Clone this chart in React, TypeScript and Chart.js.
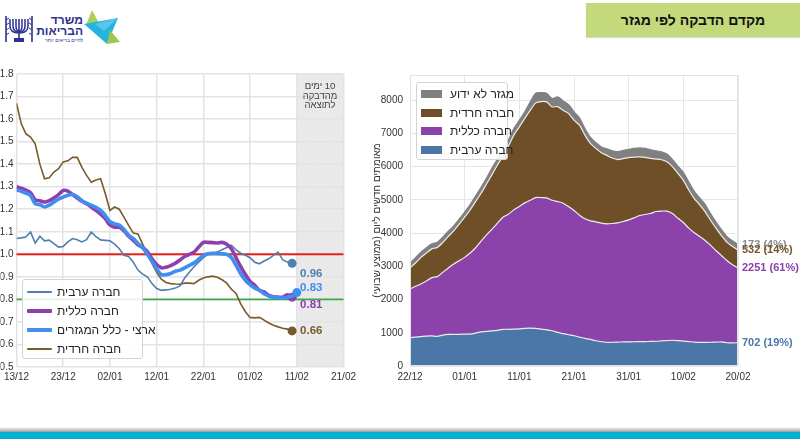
import React, { useEffect, useRef } from 'react';
import { Chart, registerables } from 'chart.js';

Chart.register(...registerables);

const FONT = '"Liberation Sans", Arial, Helvetica, sans-serif';

// ---------- header / text ----------
const titleText = 'מקדם הדבקה לפי מגזר';
const logoLine1 = 'משרד';
const logoLine2 = 'הבריאות';
const logoSlogan = 'לחיים בריאים יותר';
const forecastNote = ['10 ימים', 'מהדבקה', 'לתוצאה'];

// ---------- left chart: reproduction number by sector (daily from 13/12) ----------
const rTickLabels = ['13/12', '23/12', '02/01', '12/01', '22/01', '01/02', '11/02', '21/02'];
const rNames = ['חברה ערבית', 'חברה כללית', 'ארצי - כלל המגזרים', 'חברה חרדית'];

const rArab = [
  1.07, 1.073, 1.077, 1.099, 1.05, 1.08, 1.06, 1.063, 1.047, 1.032,
  1.035, 1.055, 1.07, 1.065, 1.055, 1.065, 1.099, 1.078, 1.064, 1.062,
  1.06, 1.045, 1.025, 0.996, 0.99, 0.965, 0.93, 0.912, 0.9, 0.87,
  0.848, 0.84, 0.842, 0.845, 0.85, 0.86, 0.895, 0.92, 0.945, 0.965,
  0.985, 1.0, 1.005, 1.01, 1.02, 1.03, 1.04, 1.02, 1.005, 0.996,
  0.985, 0.965, 0.958, 0.97, 0.98, 0.995, 1.01, 0.975, 0.966, 0.96,
];
const rGeneral = [
  1.30, 1.293, 1.285, 1.273, 1.242, 1.238, 1.232, 1.238, 1.25, 1.265,
  1.283, 1.28, 1.265, 1.25, 1.235, 1.224, 1.21, 1.195, 1.178, 1.158,
  1.13, 1.12, 1.12, 1.105, 1.08, 1.062, 1.042, 1.03, 1.012, 0.98,
  0.955, 0.94, 0.943, 0.95, 0.96, 0.975, 0.99, 1.0, 1.01, 1.032,
  1.053, 1.053, 1.052, 1.05, 1.053, 1.045, 1.025, 0.985, 0.945, 0.91,
  0.88, 0.862, 0.84, 0.833, 0.818, 0.812, 0.81, 0.81, 0.82, 0.81,
];
const rNational = [
  1.286, 1.28, 1.272, 1.261, 1.224, 1.22, 1.21, 1.218, 1.232, 1.245,
  1.254, 1.262, 1.265, 1.255, 1.238, 1.227, 1.218, 1.208, 1.195, 1.172,
  1.145, 1.135, 1.13, 1.11, 1.085, 1.07, 1.048, 1.03, 1.0, 0.97,
  0.935, 0.91, 0.91, 0.915, 0.925, 0.93, 0.94, 0.951, 0.962, 0.978,
  0.995, 1.002, 1.004, 1.004, 1.002, 1.0, 0.985, 0.951, 0.914, 0.885,
  0.865, 0.85, 0.841, 0.825, 0.815, 0.81, 0.808, 0.805, 0.81, 0.815,
  0.83,
];
const rHaredi = [
  1.67, 1.58, 1.535, 1.52, 1.49, 1.40, 1.335, 1.34, 1.365, 1.38,
  1.41, 1.415, 1.43, 1.43, 1.386, 1.35, 1.32, 1.33, 1.335, 1.27,
  1.195, 1.21, 1.2, 1.165, 1.128, 1.094, 1.09, 1.045, 1.0, 0.96,
  0.92, 0.89, 0.875, 0.87, 0.868, 0.867, 0.872, 0.872, 0.87, 0.885,
  0.895, 0.9, 0.903, 0.898, 0.887, 0.872, 0.845, 0.826, 0.78, 0.745,
  0.72, 0.718, 0.72, 0.708, 0.695, 0.685, 0.678, 0.672, 0.668, 0.66,
];
const rThresholdHigh = 1.0;
const rThresholdLow = 0.8;
const rForecastStart = 60; // days after 13/12 (11/02)
const rForecastEnd = 70; // 21/02

const rColors = ['#4f7fae', '#8e3fae', '#3f8ef0', '#7a5a2c'];
const rWidths = [1.6, 3.6, 3.6, 1.6];
const rOrder = [2, 1, 0, 3];
const rLabelDy = [11, 8, -5, 0];

// ---------- right chart: daily new cases (7-day avg) by sector, from 22/12 ----------
const cTickLabels = ['22/12', '01/01', '11/01', '21/01', '31/01', '10/02', '20/02'];
const cYTicks = [0, 1000, 2000, 3000, 4000, 5000, 6000, 7000, 8000];
const sectorNames = ['חברה ערבית', 'חברה כללית', 'חברה חרדית', 'מגזר לא ידוע'];
const casesArab = [
  855, 870, 885, 900, 905, 895, 930, 950, 955, 955,
  960, 960, 990, 1030, 1040, 1055, 1075, 1105, 1105, 1110,
  1120, 1135, 1140, 1130, 1110, 1090, 1060, 1010, 975, 940,
  910, 870, 830, 800, 760, 730, 715, 715, 720, 725,
  728, 730, 732, 735, 740, 745, 755, 765, 775, 765,
  750, 735, 720, 710, 712, 715, 720, 725, 700, 695,
  702,
];
const casesGeneral = [
  1462, 1530, 1585, 1660, 1755, 1795, 1890, 2000, 2115, 2215,
  2310, 2440, 2570, 2730, 2910, 3065, 3225, 3375, 3465, 3590,
  3680, 3775, 3850, 3940, 3960, 3970, 3930, 3940, 3925, 3860,
  3770, 3670, 3600, 3570, 3580, 3570, 3565, 3575, 3590, 3625,
  3672, 3730, 3798, 3825, 3850, 3905, 3910, 3895, 3815, 3685,
  3570, 3415, 3290, 3190, 3068, 2915, 2750, 2595, 2470, 2355,
  2251,
];
const casesHaredi = [
  634, 700, 800, 840, 865, 880, 900, 950, 1000, 1100,
  1210, 1300, 1390, 1440, 1530, 1640, 1750, 1840, 2050, 2250,
  2400, 2540, 2710, 2850, 2890, 2890, 2810, 2860, 2800, 2800,
  2720, 2710, 2520, 2330, 2210, 2120, 2060, 1970, 1905, 1890,
  1875, 1830, 1765, 1720, 1660, 1580, 1545, 1490, 1410, 1350,
  1270, 1150, 1030, 950, 860, 750, 670, 600, 550, 550,
  532,
];
const casesUnknown = [
  140, 160, 153, 160, 151, 156, 160, 160, 150, 150,
  152, 160, 170, 180, 180, 200, 180, 180, 180, 200,
  200, 200, 250, 290, 270, 260, 250, 290, 280, 270,
  250, 220, 200, 180, 180, 170, 200, 220, 240, 250,
  250, 260, 270, 270, 260, 250, 240, 230, 220, 220,
  240, 240, 220, 210, 220, 200, 190, 180, 170, 170,
  173,
];
const sectorShares = [19, 61, 14, 4];
const casesYTitle = 'מאומתים חדשים ליום (ממוצע שבועי)';

const sectorColors = ['#4a76a8', '#8b42ab', '#6f4f28', '#808080'];
const sectorLabelColors = ['#4a76a8', '#8b42ab', '#74552c', '#8a8a8a'];

// ---------- plugins ----------
const leftDecor = {
  id: 'leftDecor',
  beforeDraw(chart: any) {
    const { ctx, chartArea: a, scales } = chart;
    const x0 = scales.x.getPixelForValue(rForecastStart);
    const x1 = scales.x.getPixelForValue(rForecastEnd);
    ctx.save();
    ctx.fillStyle = '#e6e6e6';
    ctx.fillRect(x0, a.top, x1 - x0, a.bottom - a.top);
    ctx.beginPath();
    ctx.rect(x0, a.top, x1 - x0, a.bottom - a.top);
    ctx.clip();
    ctx.strokeStyle = 'rgba(255,255,255,0.6)';
    ctx.lineWidth = 0.7;
    ctx.beginPath();
    const h = a.bottom - a.top;
    for (let k = -h; k < x1 - x0 + h; k += 3) {
      ctx.moveTo(x0 + k, a.top);
      ctx.lineTo(x0 + k + h, a.bottom);
    }
    ctx.stroke();
    ctx.restore();
  },
  beforeDatasetsDraw(chart: any) {
    const { ctx, chartArea: a, scales } = chart;
    ctx.save();
    const yh = scales.y.getPixelForValue(rThresholdHigh);
    ctx.strokeStyle = '#e8211d';
    ctx.lineWidth = 2;
    ctx.beginPath();
    ctx.moveTo(a.left, yh);
    ctx.lineTo(a.right, yh);
    ctx.stroke();
    const yl = scales.y.getPixelForValue(rThresholdLow);
    ctx.strokeStyle = '#3daa48';
    ctx.lineWidth = 1.6;
    ctx.beginPath();
    ctx.moveTo(a.left, yl);
    ctx.lineTo(a.right, yl);
    ctx.stroke();
    ctx.restore();
  },
  afterDatasetsDraw(chart: any) {
    const { ctx, scales } = chart;
    const series = [rArab, rGeneral, rNational, rHaredi];
    const lx = scales.x.getPixelForValue(rArab.length - 1) + 8;
    ctx.save();
    ctx.direction = 'ltr';
    ctx.font = `bold 11.5px ${FONT}`;
    ctx.textAlign = 'left';
    ctx.textBaseline = 'middle';
    series.forEach((arr, i) => {
      const v = arr[arr.length - 1];
      const py = scales.y.getPixelForValue(v);
      ctx.fillStyle = rColors[i];
      ctx.fillText(v.toFixed(2), lx, py + rLabelDy[i]);
    });
    ctx.restore();
  },
};

const rightDecor = {
  id: 'rightDecor',
  afterDatasetsDraw(chart: any) {
    const { ctx, chartArea: a, scales } = chart;
    ctx.save();
    ctx.strokeStyle = '#e2e2e2';
    ctx.lineWidth = 1;
    ctx.strokeRect(a.left + 0.5, a.top + 0.5, a.right - a.left - 1, a.bottom - a.top - 1);
    const series = [casesArab, casesGeneral, casesHaredi, casesUnknown];
    const tops: number[] = [];
    let cum = 0;
    series.forEach((arr) => {
      cum += arr[arr.length - 1];
      tops.push(cum);
    });
    ctx.direction = 'ltr';
    ctx.font = `bold 11px ${FONT}`;
    ctx.textAlign = 'left';
    ctx.textBaseline = 'middle';
    for (let i = series.length - 1; i >= 0; i--) {
      const arr = series[i];
      const v = arr[arr.length - 1];
      ctx.fillStyle = sectorLabelColors[i];
      ctx.fillText(`${v} (${sectorShares[i]}%)`, a.right + 4, scales.y.getPixelForValue(tops[i]));
    }
    ctx.restore();
  },
};

// ---------- charts ----------
function LeftChart() {
  const ref = useRef<HTMLCanvasElement | null>(null);
  useEffect(() => {
    if (!ref.current) return;
    const series = [rArab, rGeneral, rNational, rHaredi];
    const chart = new Chart(ref.current, {
      type: 'line',
      data: {
        datasets: series.map((arr, i) => ({
          label: rNames[i],
          data: arr.map((v, d) => ({ x: d, y: v })),
          borderColor: rColors[i],
          backgroundColor: rColors[i],
          borderWidth: rWidths[i],
          tension: i === 1 || i === 2 ? 0.3 : 0,
          pointRadius: (c: any) => (c.dataIndex === arr.length - 1 ? 4.5 : 0),
          pointHoverRadius: 0,
          pointBorderWidth: 0,
          pointBackgroundColor: rColors[i],
          fill: false,
          order: rOrder[i],
        })),
      } as any,
      options: {
        animation: false,
        responsive: false,
        events: [],
        layout: { padding: { top: 14, right: 16, left: 0, bottom: 0 } },
        plugins: { legend: { display: false }, tooltip: { enabled: false } },
        scales: {
          x: {
            type: 'linear',
            min: 0,
            max: 70,
            afterFit: (s: any) => { s.height = 22; },
            grid: { color: '#e3e3e3', lineWidth: 1.5, drawTicks: false },
            border: { display: false },
            ticks: {
              stepSize: 10,
              padding: 4,
              autoSkip: false,
              maxRotation: 0,
              color: '#333',
              font: { family: FONT, size: 10 },
              callback: (v: any) => rTickLabels[Math.round(Number(v) / 10)] ?? '',
            },
          },
          y: {
            min: 0.5,
            max: 1.8,
            afterFit: (s: any) => { s.width = 16; },
            grid: { color: '#e3e3e3', lineWidth: 1.5, drawTicks: false },
            border: { display: false },
            ticks: {
              stepSize: 0.1,
              padding: 3,
              color: '#333',
              font: { family: FONT, size: 10 },
              callback: (v: any) => Number(v).toFixed(1),
            },
          },
        },
      } as any,
      plugins: [leftDecor],
    });
    return () => chart.destroy();
  }, []);
  return (
    <canvas
      ref={ref}
      width={360}
      height={329}
      style={{ position: 'absolute', left: 0, top: 60, width: 360, height: 329, display: 'block' }}
    />
  );
}

function RightChart() {
  const ref = useRef<HTMLCanvasElement | null>(null);
  useEffect(() => {
    if (!ref.current) return;
    const series = [casesArab, casesGeneral, casesHaredi, casesUnknown];
    const chart = new Chart(ref.current, {
      type: 'line',
      data: {
        datasets: series.map((arr, i) => ({
          label: sectorNames[i],
          data: arr.map((v, d) => ({ x: d, y: v })),
          backgroundColor: sectorColors[i],
          borderColor: i < 3 ? '#ececec' : sectorColors[i],
          borderWidth: 1.2,
          fill: i === 0 ? 'origin' : '-1',
          pointRadius: 0,
          pointHoverRadius: 0,
          tension: 0.25,
        })),
      } as any,
      options: {
        animation: false,
        responsive: false,
        events: [],
        layout: { padding: { top: 15, right: 62, left: 0, bottom: 0 } },
        plugins: { legend: { display: false }, tooltip: { enabled: false } },
        scales: {
          x: {
            type: 'linear',
            min: 0,
            max: 60,
            afterFit: (s: any) => { s.height = 22; },
            grid: { color: '#e6e6e6', lineWidth: 1, drawTicks: false },
            border: { display: false },
            ticks: {
              stepSize: 10,
              padding: 5,
              autoSkip: false,
              maxRotation: 0,
              color: '#333',
              font: { family: FONT, size: 10 },
              callback: (v: any) => cTickLabels[Math.round(Number(v) / 10)] ?? '',
            },
          },
          y: {
            stacked: true,
            min: 0,
            max: 8760,
            afterBuildTicks: (s: any) => { s.ticks = cYTicks.map((v) => ({ value: v })); },
            afterFit: (s: any) => { s.width = 48; },
            grid: { color: '#e6e6e6', lineWidth: 1, drawTicks: false },
            border: { display: false },
            title: {
              display: true,
              text: casesYTitle,
              color: '#333',
              font: { family: FONT, size: 10 },
              padding: { top: 9, bottom: 0 },
            },
            ticks: {
              padding: 7,
              color: '#333',
              font: { family: FONT, size: 10 },
              callback: (v: any) => String(v),
            },
          },
        },
      } as any,
      plugins: [rightDecor],
    });
    return () => chart.destroy();
  }, []);
  return (
    <canvas
      ref={ref}
      width={438}
      height={328}
      style={{ position: 'absolute', left: 362, top: 60, width: 438, height: 328, display: 'block', direction: 'rtl' }}
    />
  );
}

function LeftLegend() {
  const rows = [0, 1, 2, 3];
  return (
    <div
      style={{
        position: 'absolute', left: 22, top: 279, width: 121, height: 80,
        border: '1px solid #d4d4d4', borderRadius: 3, background: 'rgba(255,255,255,0.88)', boxSizing: 'border-box',
      }}
    >
      {rows.map((i) => (
        <div key={i} style={{ position: 'absolute', left: 0, top: 3 + i * 19, width: 119, height: 18 }}>
          <div style={{ position: 'absolute', left: 4, top: 9 - rWidths[i] / 2, width: 25, height: rWidths[i], background: rColors[i], borderRadius: 1 }} />
          <div dir="rtl" style={{ position: 'absolute', left: 34, top: 2, fontSize: 12, lineHeight: '14px', color: '#222', whiteSpace: 'nowrap' }}>
            {rNames[i]}
          </div>
        </div>
      ))}
    </div>
  );
}

function RightLegend() {
  const rows = [3, 2, 1, 0];
  return (
    <div
      style={{
        position: 'absolute', left: 416, top: 82, width: 92, height: 78,
        border: '1px solid #d4d4d4', borderRadius: 3, background: 'rgba(255,255,255,0.9)', boxSizing: 'border-box',
      }}
    >
      {rows.map((s, k) => (
        <div key={s} style={{ position: 'absolute', left: 0, top: 2 + k * 18.6, width: 90, height: 18 }}>
          <div style={{ position: 'absolute', left: 4, top: 5, width: 21, height: 8, background: sectorColors[s] }} />
          <div dir="rtl" style={{ position: 'absolute', left: 33, top: 2, fontSize: 12, lineHeight: '14px', color: '#222', whiteSpace: 'nowrap' }}>
            {sectorNames[s]}
          </div>
        </div>
      ))}
    </div>
  );
}

function Logo() {
  const navy = '#2e3192';
  const arcs = [1, 2, 3].map((k) => {
    const cx = 19;
    const dx = 3 * k;
    const by = 30 + k;
    return `M${cx - dx},19 L${cx - dx},26 Q${cx - dx},${by} ${cx},${by} Q${cx + dx},${by} ${cx + dx},26 L${cx + dx},19`;
  });
  return (
    <>
      <svg width={125} height={50} style={{ position: 'absolute', left: 0, top: 0 }}>
        <path d="M6,16 L6,42 M32,16 L32,42" stroke={navy} strokeWidth={1.6} fill="none" />
        <path d="M6,20 L9,18 M6,25 L9,23 M6,30 L9,28 M6,35 L9,33 M32,20 L29,18 M32,25 L29,23 M32,30 L29,28 M32,35 L29,33" stroke={navy} strokeWidth={1} />
        {arcs.map((d, i) => (
          <path key={i} d={d} stroke={navy} strokeWidth={1.5} fill="none" />
        ))}
        <path d="M19,19 L19,39" stroke={navy} strokeWidth={1.6} />
        <rect x={14} y={38} width={10} height={4} fill={navy} />
        <polygon points="92,10 101,27 86,25" fill="#a9cf5c" />
        <polygon points="84,24 118,18 107,44" fill="#27b3df" />
        <polygon points="95,24 118,18 104,31" fill="#58c6e8" />
        <polygon points="110,30 120,42 107,44" fill="#9cc84f" />
      </svg>
      <div dir="rtl" style={{ position: 'absolute', left: 40, top: 14, width: 43, textAlign: 'right', fontSize: 12, fontWeight: 'bold', lineHeight: '12px', color: navy }}>
        {logoLine1}
      </div>
      <div dir="rtl" style={{ position: 'absolute', left: 38, top: 25, width: 45, textAlign: 'right', fontSize: 12, fontWeight: 'bold', lineHeight: '12px', color: navy }}>
        {logoLine2}
      </div>
      <div dir="rtl" style={{ position: 'absolute', left: 40, top: 37, width: 43, textAlign: 'right', fontSize: 5, lineHeight: '6px', color: navy }}>
        {logoSlogan}
      </div>
    </>
  );
}

export default function App() {
  return (
    <div
      style={{
        position: 'absolute', left: 0, top: 0, width: 800, height: 439,
        background: '#ffffff', overflow: 'hidden', fontFamily: FONT,
      }}
    >
      <Logo />
      <div
        dir="rtl"
        style={{
          position: 'absolute', left: 586, top: 3, width: 214, height: 34,
          background: '#c4d87c', boxShadow: '0 1px 1px rgba(0,0,0,0.15)',
          display: 'flex', alignItems: 'center', justifyContent: 'center',
          fontSize: 14, fontWeight: 'bold', color: '#111',
        }}
      >
        {titleText}
      </div>

      <LeftChart />
      <RightChart />
      <LeftLegend />
      <RightLegend />

      <div
        dir="rtl"
        style={{
          position: 'absolute', left: 298, top: 81, width: 44, textAlign: 'center',
          fontSize: 9.5, lineHeight: '9.5px', color: '#444',
        }}
      >
        {forecastNote.map((t, i) => (
          <div key={i}>{t}</div>
        ))}
      </div>

      <div style={{ position: 'absolute', left: 0, top: 427, width: 800, height: 5, background: 'linear-gradient(#ffffff, #9a9a9a)' }} />
      <div style={{ position: 'absolute', left: 0, top: 432, width: 800, height: 7, background: '#00afd3' }} />
    </div>
  );
}
